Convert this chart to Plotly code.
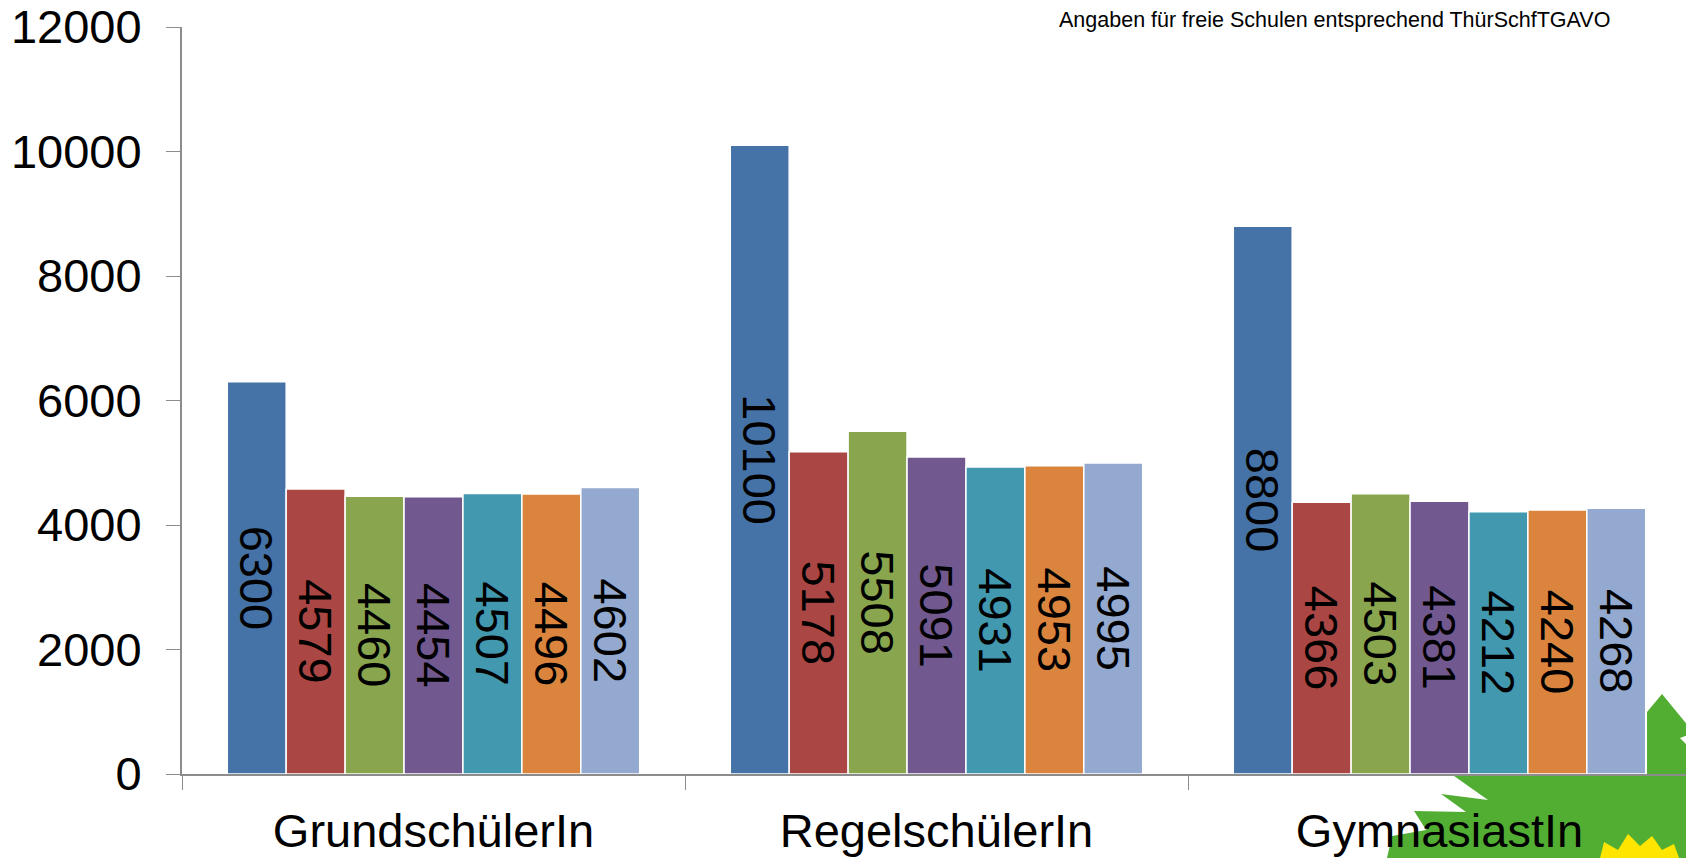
import plotly.graph_objects as go

categories = ["GrundschülerIn", "RegelschülerIn", "GymnasiastIn"]
series_names = ["Reihe 1", "Reihe 2", "Reihe 3", "Reihe 4", "Reihe 5", "Reihe 6", "Reihe 7"]
series_values = [
    [6300, 10100, 8800],
    [4579, 5178, 4366],
    [4460, 5508, 4503],
    [4454, 5091, 4381],
    [4507, 4931, 4212],
    [4496, 4953, 4240],
    [4602, 4995, 4268],
]
colors = ["#4572A7", "#AA4643", "#89A54E", "#71588F", "#4198AF", "#DB843D", "#93A9CF"]
y_ticks = [0, 2000, 4000, 6000, 8000, 10000, 12000]
note_text = "Angaben für freie Schulen entsprechend ThürSchfTGAVO"

W, H = 1694, 858
OFF = 8  # page body margin
# plot area in screen pixels
SX0, SX1, SY0, SY1 = 181.5, 1691, 27, 774
ML = SX0 - OFF
MR = W - (SX1 - OFF)
MT = SY0 - OFF
MB = H - (SY1 - OFF)
PW, PH = SX1 - SX0, SY1 - SY0
FONT = "Liberation Sans, Arial, sans-serif"


def px(x):
    return (x - SX0) / PW


def py(y):
    return (SY1 - y) / PH


fig = go.Figure()
for name, vals, col in zip(series_names, series_values, colors):
    fig.add_trace(go.Bar(
        x=categories, y=vals, name=name,
        marker=dict(color=col, line=dict(color="white", width=1.5)),
        text=[str(v) for v in vals],
        textposition="inside", insidetextanchor="middle",
        textangle=90, constraintext="none",
        textfont=dict(family=FONT, size=47, color="black"),
        hoverinfo="x+y",
    ))

# decorative sunflower (green leaves + yellow petals), bottom right
leaf = [(1662, 694), (1694, 733), (1680, 738), (1694, 752), (1694, 866),
        (1385, 866), (1392, 836), (1426, 830), (1414, 811), (1466, 812),
        (1441, 794), (1488, 800), (1454, 776), (1647, 776), (1647, 712)]
path = "M " + " L ".join(f"{px(a):.5f},{py(b):.5f}" for a, b in leaf) + " Z"
petals = [(1598, 866), (1604, 842), (1618, 850), (1628, 834), (1640, 846),
          (1652, 836), (1662, 850), (1674, 844), (1682, 866)]
ppath = "M " + " L ".join(f"{px(a):.5f},{py(b):.5f}" for a, b in petals) + " Z"

fig.update_layout(
    width=W, height=H,
    margin=dict(l=ML, r=MR, t=MT, b=MB, autoexpand=False),
    paper_bgcolor="white", plot_bgcolor="rgba(0,0,0,0)",
    barmode="group", bargap=0.18, bargroupgap=0,
    showlegend=False,
    font=dict(family=FONT, color="black"),
    xaxis=dict(
        showline=True, linecolor="#8c8c8c", linewidth=2,
        ticks="outside", tickson="boundaries", ticklen=14, tickcolor="#8c8c8c", tickwidth=1,
        tickfont=dict(size=47, family=FONT, color="black"),
        ticklabelstandoff=15, ticklabeloverflow="allow",
        showgrid=False,
    ),
    yaxis=dict(
        range=[0, 12000], tickvals=y_ticks, ticktext=[str(t) for t in y_ticks],
        showline=True, linecolor="#8c8c8c", linewidth=2,
        ticks="outside", ticklen=14, tickcolor="#8c8c8c", tickwidth=1,
        tickfont=dict(size=47, family=FONT, color="black"),
        ticklabelstandoff=15, ticklabeloverflow="allow",
        showgrid=False, zeroline=False,
    ),
    shapes=[
        dict(type="path", path=path, xref="paper", yref="paper",
             fillcolor="#52AE32", line=dict(width=0), layer="below"),
        dict(type="path", path=ppath, xref="paper", yref="paper",
             fillcolor="#FFE500", line=dict(width=0), layer="below"),
    ],
    annotations=[dict(
        text=note_text, xref="paper", yref="paper",
        x=px(1612), y=py(20), xanchor="right", yanchor="middle",
        showarrow=False, font=dict(size=21.5, family=FONT, color="black"),
    )],
)

fig.write_html("out.html")
